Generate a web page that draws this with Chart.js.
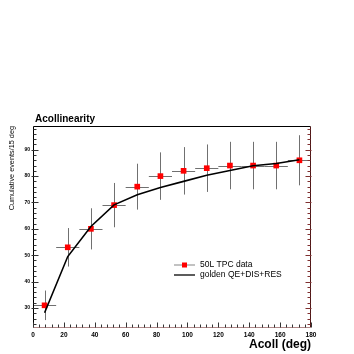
<!DOCTYPE html>
<html>
<head>
<meta charset="utf-8">
<script src="https://cdn.jsdelivr.net/npm/chart.js@4.4.1/dist/chart.umd.min.js"></script>
<style>
  html, body { margin: 0; padding: 0; background: #fff; }
</style>
</head>
<body>
<canvas id="acollChart" width="354" height="354"></canvas>
<script>
// bin centres (15 deg bins) and values
var binCenters = [7.5, 22.5, 37.5, 52.5, 67.5, 82.5, 97.5, 112.5, 127.5, 142.5, 157.5, 172.5];
var binHalfWidth = 7.5;
var tpcData = [31, 53, 60, 69, 76, 80, 82, 83, 84, 84, 84, 86];
var tpcErrors = [5.6, 7.3, 7.8, 8.4, 8.7, 9.0, 9.0, 9.0, 9.0, 9.0, 9.0, 9.5];
var goldenMC = [28.2, 49.5, 60.9, 69.1, 72.9, 75.7, 78.0, 80.3, 82.1, 83.9, 84.8, 86.2];

// axis labels
var xTickLabels = [0, 20, 40, 60, 80, 100, 120, 140, 160, 180];
var yTickLabels = [30, 40, 50, 60, 70, 80, 90];

var FONT = '"Liberation Sans", Arial, Helvetica, sans-serif';

function toPoints(xs, ys) {
    return xs.map(function (x, i) { return { x: x, y: ys[i] }; });
}

// major + minor ticks (ROOT style, 5 divisions)
function buildTicks(min, max, step) {
    var t = [];
    for (var v = Math.ceil(min / step) * step; v <= max + 1e-9; v += step) {
        t.push({ value: Math.round(v * 100) / 100 });
    }
    return t;
}

// frame, inward ticks, error bars, title and legend
var rootStyle = {
    id: 'rootStyle',
    beforeDatasetsDraw: function (chart) {
        var ctx = chart.ctx, xs = chart.scales.x, ys = chart.scales.y;
        ctx.save();
        ctx.strokeStyle = '#707070';
        ctx.lineWidth = 1;
        binCenters.forEach(function (c, i) {
            var px = Math.round(xs.getPixelForValue(c)) + 0.5;
            var py = Math.round(ys.getPixelForValue(tpcData[i])) + 0.5;
            ctx.beginPath();
            ctx.moveTo(xs.getPixelForValue(c - binHalfWidth), py);
            ctx.lineTo(xs.getPixelForValue(c + binHalfWidth), py);
            ctx.moveTo(px, ys.getPixelForValue(tpcData[i] - tpcErrors[i]));
            ctx.lineTo(px, ys.getPixelForValue(tpcData[i] + tpcErrors[i]));
            ctx.stroke();
        });
        ctx.restore();
    },
    afterDraw: function (chart) {
        var ctx = chart.ctx, a = chart.chartArea, xs = chart.scales.x, ys = chart.scales.y;
        var L = Math.round(a.left) + 0.5, R = Math.round(a.right) - 0.5;
        var T = Math.round(a.top) + 0.5, B = Math.round(a.bottom) - 0.5;
        ctx.save();
        ctx.lineWidth = 1;

        // frame
        ctx.strokeStyle = '#000';
        ctx.beginPath();
        ctx.moveTo(L, B); ctx.lineTo(L, T); ctx.lineTo(R, T);
        ctx.stroke();
        ctx.strokeStyle = '#501818';
        ctx.beginPath();
        ctx.moveTo(R, T); ctx.lineTo(R, B);
        ctx.stroke();
        ctx.strokeStyle = '#b08888';
        ctx.beginPath();
        ctx.moveTo(L, B); ctx.lineTo(R, B);
        ctx.stroke();

        // y ticks, left and right
        ys.ticks.forEach(function (t) {
            var py = Math.round(ys.getPixelForValue(t.value)) + 0.5;
            var major = yTickLabels.indexOf(t.value) >= 0;
            ctx.strokeStyle = '#333';
            ctx.beginPath();
            ctx.moveTo(major ? L - 2 : L, py); ctx.lineTo(L + (major ? 5 : 3), py);
            ctx.stroke();
            ctx.strokeStyle = '#803030';
            ctx.beginPath();
            ctx.moveTo(major ? R + 1 : R, py); ctx.lineTo(R - (major ? 5 : 3), py);
            ctx.stroke();
        });
        // x ticks
        ctx.strokeStyle = '#333';
        xs.ticks.forEach(function (t) {
            var px = Math.round(xs.getPixelForValue(t.value)) + 0.5;
            var major = xTickLabels.indexOf(t.value) >= 0;
            ctx.beginPath();
            ctx.moveTo(px, B); ctx.lineTo(px, B - (major ? 5 : 3));
            ctx.stroke();
        });

        // title
        ctx.fillStyle = '#000';
        ctx.font = 'bold 10px ' + FONT;
        ctx.textAlign = 'left';
        ctx.textBaseline = 'middle';
        ctx.fillText('Acollinearity', a.left + 2, a.top - 7);

        // legend
        var lx = a.left + 141, ly1 = a.top + 139, ly2 = a.top + 149;
        ctx.strokeStyle = '#999';
        ctx.lineWidth = 1.2;
        ctx.beginPath();
        ctx.moveTo(lx, ly1); ctx.lineTo(lx + 21, ly1);
        ctx.stroke();
        ctx.fillStyle = '#ff0000';
        ctx.fillRect(lx + 8, ly1 - 2.5, 5, 5);
        ctx.strokeStyle = '#333';
        ctx.lineWidth = 1.6;
        ctx.beginPath();
        ctx.moveTo(lx, ly2); ctx.lineTo(lx + 21, ly2);
        ctx.stroke();
        ctx.fillStyle = '#000';
        ctx.font = '8.5px ' + FONT;
        ctx.fillText('50L TPC data', lx + 26, ly1);
        ctx.fillText('golden QE+DIS+RES', lx + 26, ly2);
        ctx.restore();
    }
};

var ctx = document.getElementById('acollChart').getContext('2d');
var acollChart = new Chart(ctx, {
    type: 'scatter',
    data: {
        datasets: [{
            type: 'line',
            label: 'golden QE+DIS+RES',
            data: toPoints(binCenters, goldenMC),
            borderColor: '#000',
            borderWidth: 1.6,
            pointRadius: 0,
            tension: 0,
            fill: false,
            order: 0
        }, {
            label: '50L TPC data',
            data: toPoints(binCenters, tpcData),
            pointStyle: 'rect',
            pointRadius: 4,
            backgroundColor: '#ff0000',
            borderColor: '#ff0000',
            borderWidth: 0,
            order: 1
        }]
    },
    options: {
        responsive: false,
        animation: false,
        devicePixelRatio: 1,
        layout: { padding: { top: 126, right: 43, bottom: 0, left: 0 } },
        plugins: {
            legend: { display: false },
            tooltip: { enabled: false }
        },
        scales: {
            x: {
                type: 'linear',
                min: 0,
                max: 180,
                afterBuildTicks: function (s) { s.ticks = buildTicks(0, 180, 4); },
                afterFit: function (s) { s.height = 26; },
                grid: { display: false, drawTicks: false },
                border: { display: false },
                ticks: {
                    autoSkip: false,
                    maxRotation: 0,
                    padding: 3,
                    color: '#000',
                    font: { family: FONT, size: 6.5, weight: 'bold' },
                    callback: function (v) { return xTickLabels.indexOf(v) >= 0 ? String(v) : ''; }
                },
                title: {
                    display: true,
                    text: 'Acoll (deg)',
                    align: 'end',
                    color: '#000',
                    font: { family: FONT, size: 12, weight: 'bold' },
                    padding: { top: 0, bottom: 2 }
                }
            },
            y: {
                type: 'linear',
                min: 22.4,
                max: 99,
                afterBuildTicks: function (s) { s.ticks = buildTicks(22.4, 99, 2); },
                afterFit: function (s) { s.width = 33; },
                grid: { display: false, drawTicks: false },
                border: { display: false },
                ticks: {
                    autoSkip: false,
                    padding: 3,
                    color: '#000',
                    font: { family: FONT, size: 5, weight: 'bold' },
                    callback: function (v) { return yTickLabels.indexOf(v) >= 0 ? String(v) : ''; }
                },
                title: {
                    display: true,
                    text: 'Cumulative events/15 deg',
                    align: 'end',
                    color: '#000',
                    font: { family: FONT, size: 7.3 },
                    padding: { top: 8, bottom: 0 }
                }
            }
        }
    },
    plugins: [rootStyle]
});
</script>
</body>
</html>
